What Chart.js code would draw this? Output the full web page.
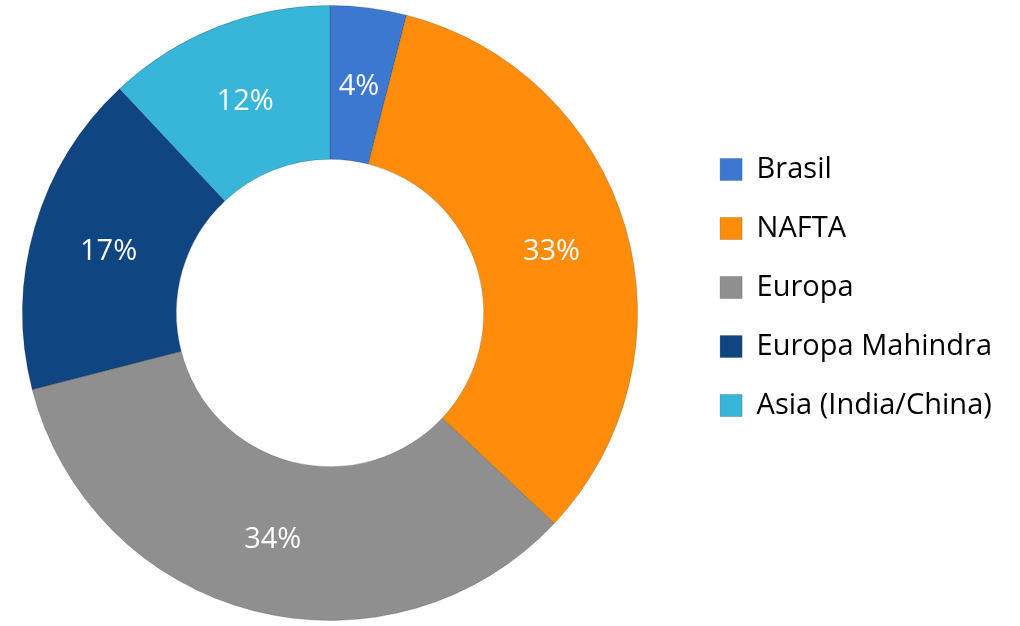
<!DOCTYPE html>
<html>
<head>
<meta charset="utf-8">
<script src="https://cdn.jsdelivr.net/npm/chart.js@4.4.1/dist/chart.umd.min.js"></script>
<style>
  html, body { margin: 0; padding: 0; background: #fff; overflow: hidden; }
  #wrap { position: absolute; left: -30px; top: 0; width: 1050px; height: 626px; }
</style>
</head>
<body>
<div id="wrap"><canvas id="grafico"></canvas></div>
<script>
// dados
const regioes = ["Brasil", "NAFTA", "Europa", "Europa Mahindra", "Asia (India/China)"];
const percentuais = [4, 33, 34, 17, 12];
const cores = ["#3D78D0", "#FF8C0A", "#8F8F8F", "#0F4580", "#38B6D9"];

// escreve o percentual no meio de cada fatia
const rotulosFatias = {
  id: "rotulosFatias",
  afterDatasetsDraw(chart) {
    const ctx = chart.ctx;
    const meta = chart.getDatasetMeta(0);
    ctx.save();
    ctx.font = "29px 'Open Sans'";
    ctx.fillStyle = "#ffffff";
    ctx.textAlign = "center";
    ctx.textBaseline = "middle";
    meta.data.forEach((arc, i) => {
      const pos = arc.tooltipPosition();
      ctx.fillText(percentuais[i] + "%", pos.x, pos.y + 3);
    });
    ctx.restore();
  }
};

const ctx = document.getElementById("grafico").getContext("2d");
new Chart(ctx, {
  type: "doughnut",
  data: {
    labels: regioes,
    datasets: [{
      data: percentuais,
      backgroundColor: cores,
      borderColor: "rgba(0,0,0,0.18)",
      borderWidth: 1
    }]
  },
  options: {
    responsive: true,
    maintainAspectRatio: false,
    animation: false,
    cutout: "50%",
    layout: { padding: { top: 5, bottom: 5, left: 0, right: 18 } },
    plugins: {
      tooltip: { enabled: false },
      legend: {
        position: "right",
        align: "start",
        title: { display: true, text: " ", padding: { top: 108, bottom: 0 }, font: { size: 10 } },
        labels: {
          color: "#000",
          font: { family: "'Open Sans'", size: 29 },
          boxWidth: 22,
          boxHeight: 22,
          padding: 30
        }
      }
    }
  },
  plugins: [rotulosFatias]
});
</script>
</body>
</html>
